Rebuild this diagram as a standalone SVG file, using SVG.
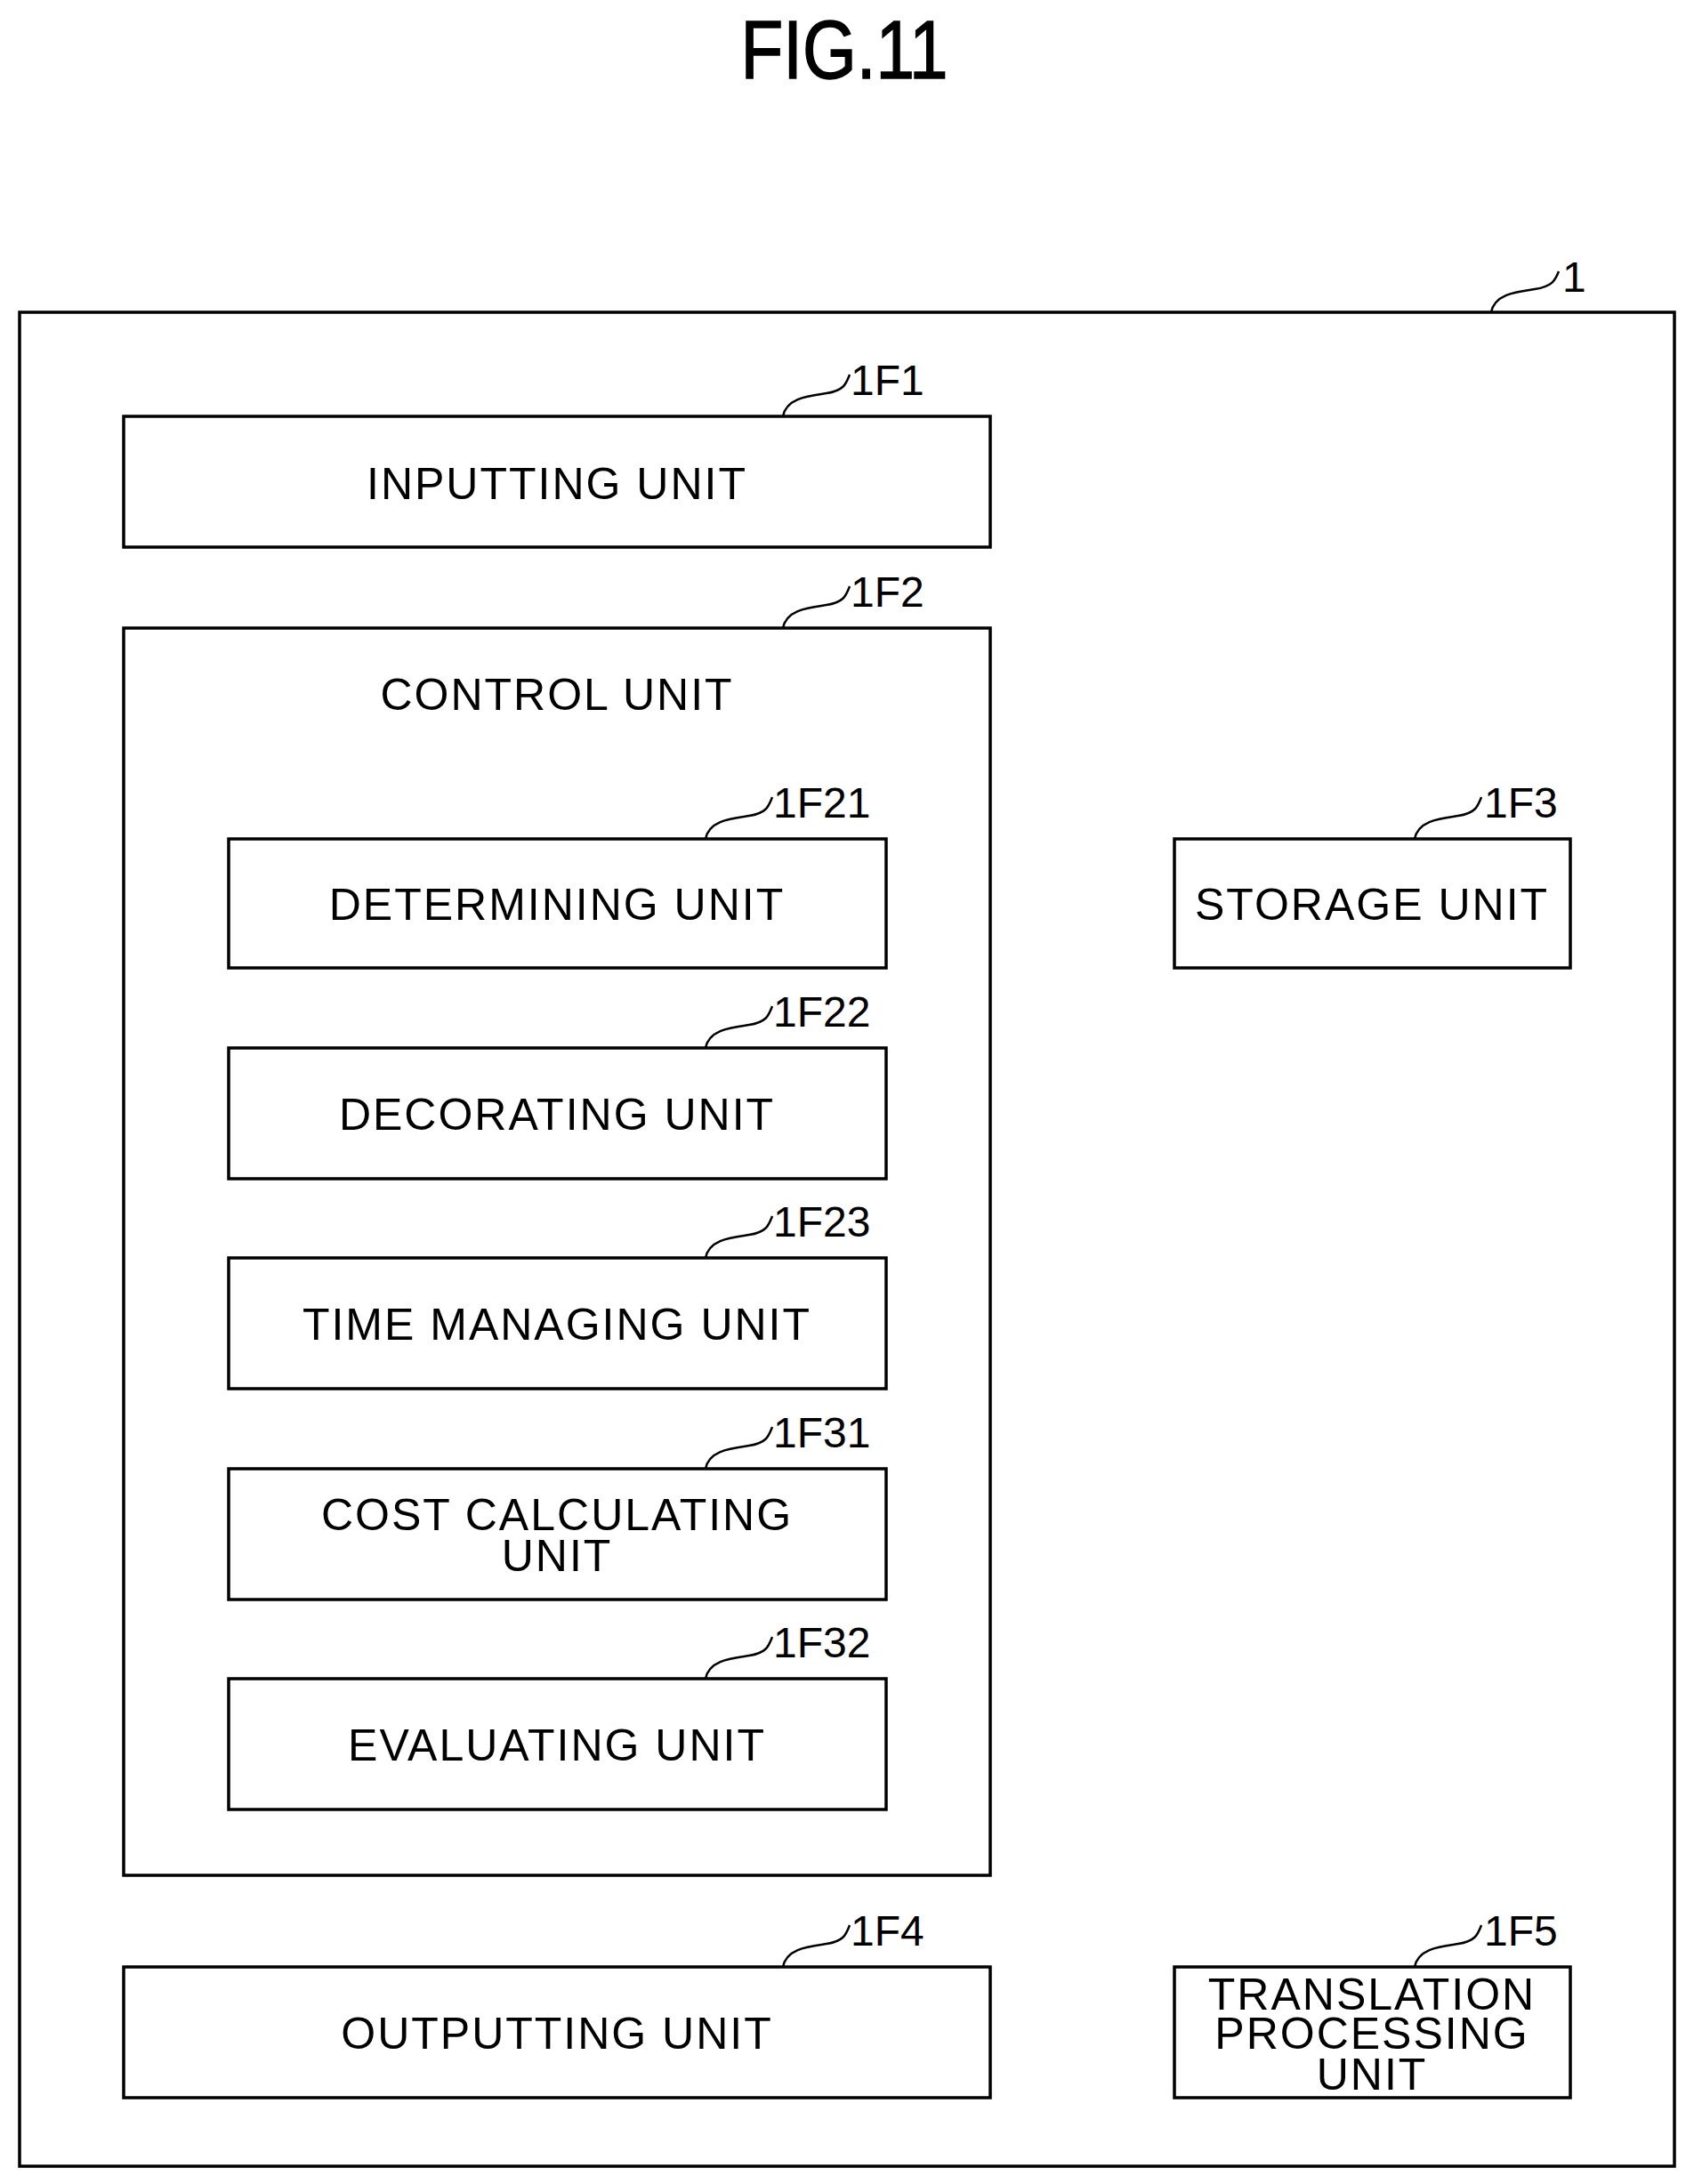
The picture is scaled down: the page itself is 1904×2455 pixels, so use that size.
<svg xmlns="http://www.w3.org/2000/svg" width="1904" height="2455" viewBox="0 0 1904 2455">
<style>
rect{fill:none;stroke:#000;stroke-width:3.5}
.t{font-family:"Liberation Sans",Arial,sans-serif;font-size:50px;text-anchor:middle;letter-spacing:2px}
.l{font-family:"Liberation Sans",Arial,sans-serif;font-size:48px}
.c path{fill:none;stroke:#000;stroke-width:2.5}
</style>
<rect width="1904" height="2455" fill="#fff" style="fill:#fff;stroke:none"/>
<text x="949" y="88" font-family="Liberation Sans,Arial,sans-serif" font-size="92" text-anchor="middle" stroke="#000" stroke-width="1.5" transform="translate(949 0) scale(0.85 1) translate(-949 0)">FIG.11</text>
<g id="n1"><rect x="22" y="351" width="1860" height="2084"/><text class="l" x="1756" y="328">1</text></g>
<g id="n1F1"><rect x="139" y="468" width="974" height="147"/><text class="t" x="626" y="561">INPUTTING UNIT</text><text class="l" x="956" y="444">1F1</text></g>
<g id="n1F2"><rect x="139" y="706" width="974" height="1402"/><text class="t" x="626" y="798">CONTROL UNIT</text><text class="l" x="956" y="682">1F2</text></g>
<g id="n1F21"><rect x="257" y="943" width="739" height="145"/><text class="t" x="626" y="1034">DETERMINING UNIT</text><text class="l" x="869" y="919">1F21</text></g>
<g id="n1F22"><rect x="257" y="1178" width="739" height="147"/><text class="t" x="626" y="1270">DECORATING UNIT</text><text class="l" x="869" y="1154">1F22</text></g>
<g id="n1F23"><rect x="257" y="1414" width="739" height="147"/><text class="t" x="626" y="1506">TIME MANAGING UNIT</text><text class="l" x="869" y="1390">1F23</text></g>
<g id="n1F31"><rect x="257" y="1651" width="739" height="147"/><text class="t" x="626" y="1720">COST CALCULATING</text><text class="t" x="626" y="1766">UNIT</text><text class="l" x="869" y="1627">1F31</text></g>
<g id="n1F32"><rect x="257" y="1887" width="739" height="147"/><text class="t" x="626" y="1979">EVALUATING UNIT</text><text class="l" x="869" y="1863">1F32</text></g>
<g id="n1F3"><rect x="1320" y="943" width="445" height="145"/><text class="t" x="1542" y="1034">STORAGE UNIT</text><text class="l" x="1668" y="919">1F3</text></g>
<g id="n1F4"><rect x="139" y="2211" width="974" height="147"/><text class="t" x="626" y="2303">OUTPUTTING UNIT</text><text class="l" x="956" y="2187">1F4</text></g>
<g id="n1F5"><rect x="1320" y="2211" width="445" height="147"/><text class="t" x="1542" y="2259">TRANSLATION</text><text class="t" x="1542" y="2303">PROCESSING</text><text class="t" x="1542" y="2349">UNIT</text><text class="l" x="1668" y="2187">1F5</text></g>
<g class="c" id="connectors">
<path d="M1676 351 C1680 330 1705 328 1725 325 C1745 322 1748 315 1752 305"/>
<path d="M880 468 C884 447 909 445 929 442 C949 439 951 431 955 421"/>
<path d="M880 706 C884 685 909 683 929 680 C949 677 951 669 955 659"/>
<path d="M793 943 C797 922 822 920 842 917 C862 914 864 906 868 896"/>
<path d="M793 1178 C797 1157 822 1155 842 1152 C862 1149 864 1141 868 1131"/>
<path d="M793 1414 C797 1393 822 1391 842 1388 C862 1385 864 1377 868 1367"/>
<path d="M793 1651 C797 1630 822 1628 842 1625 C862 1622 864 1614 868 1604"/>
<path d="M793 1887 C797 1866 822 1864 842 1861 C862 1858 864 1850 868 1840"/>
<path d="M1590 943 C1594 922 1619 920 1639 917 C1659 914 1661 906 1665 896"/>
<path d="M880 2211 C884 2190 909 2188 929 2185 C949 2182 951 2174 955 2164"/>
<path d="M1590 2211 C1594 2190 1619 2188 1639 2185 C1659 2182 1661 2174 1665 2164"/>
</g>
</svg>
